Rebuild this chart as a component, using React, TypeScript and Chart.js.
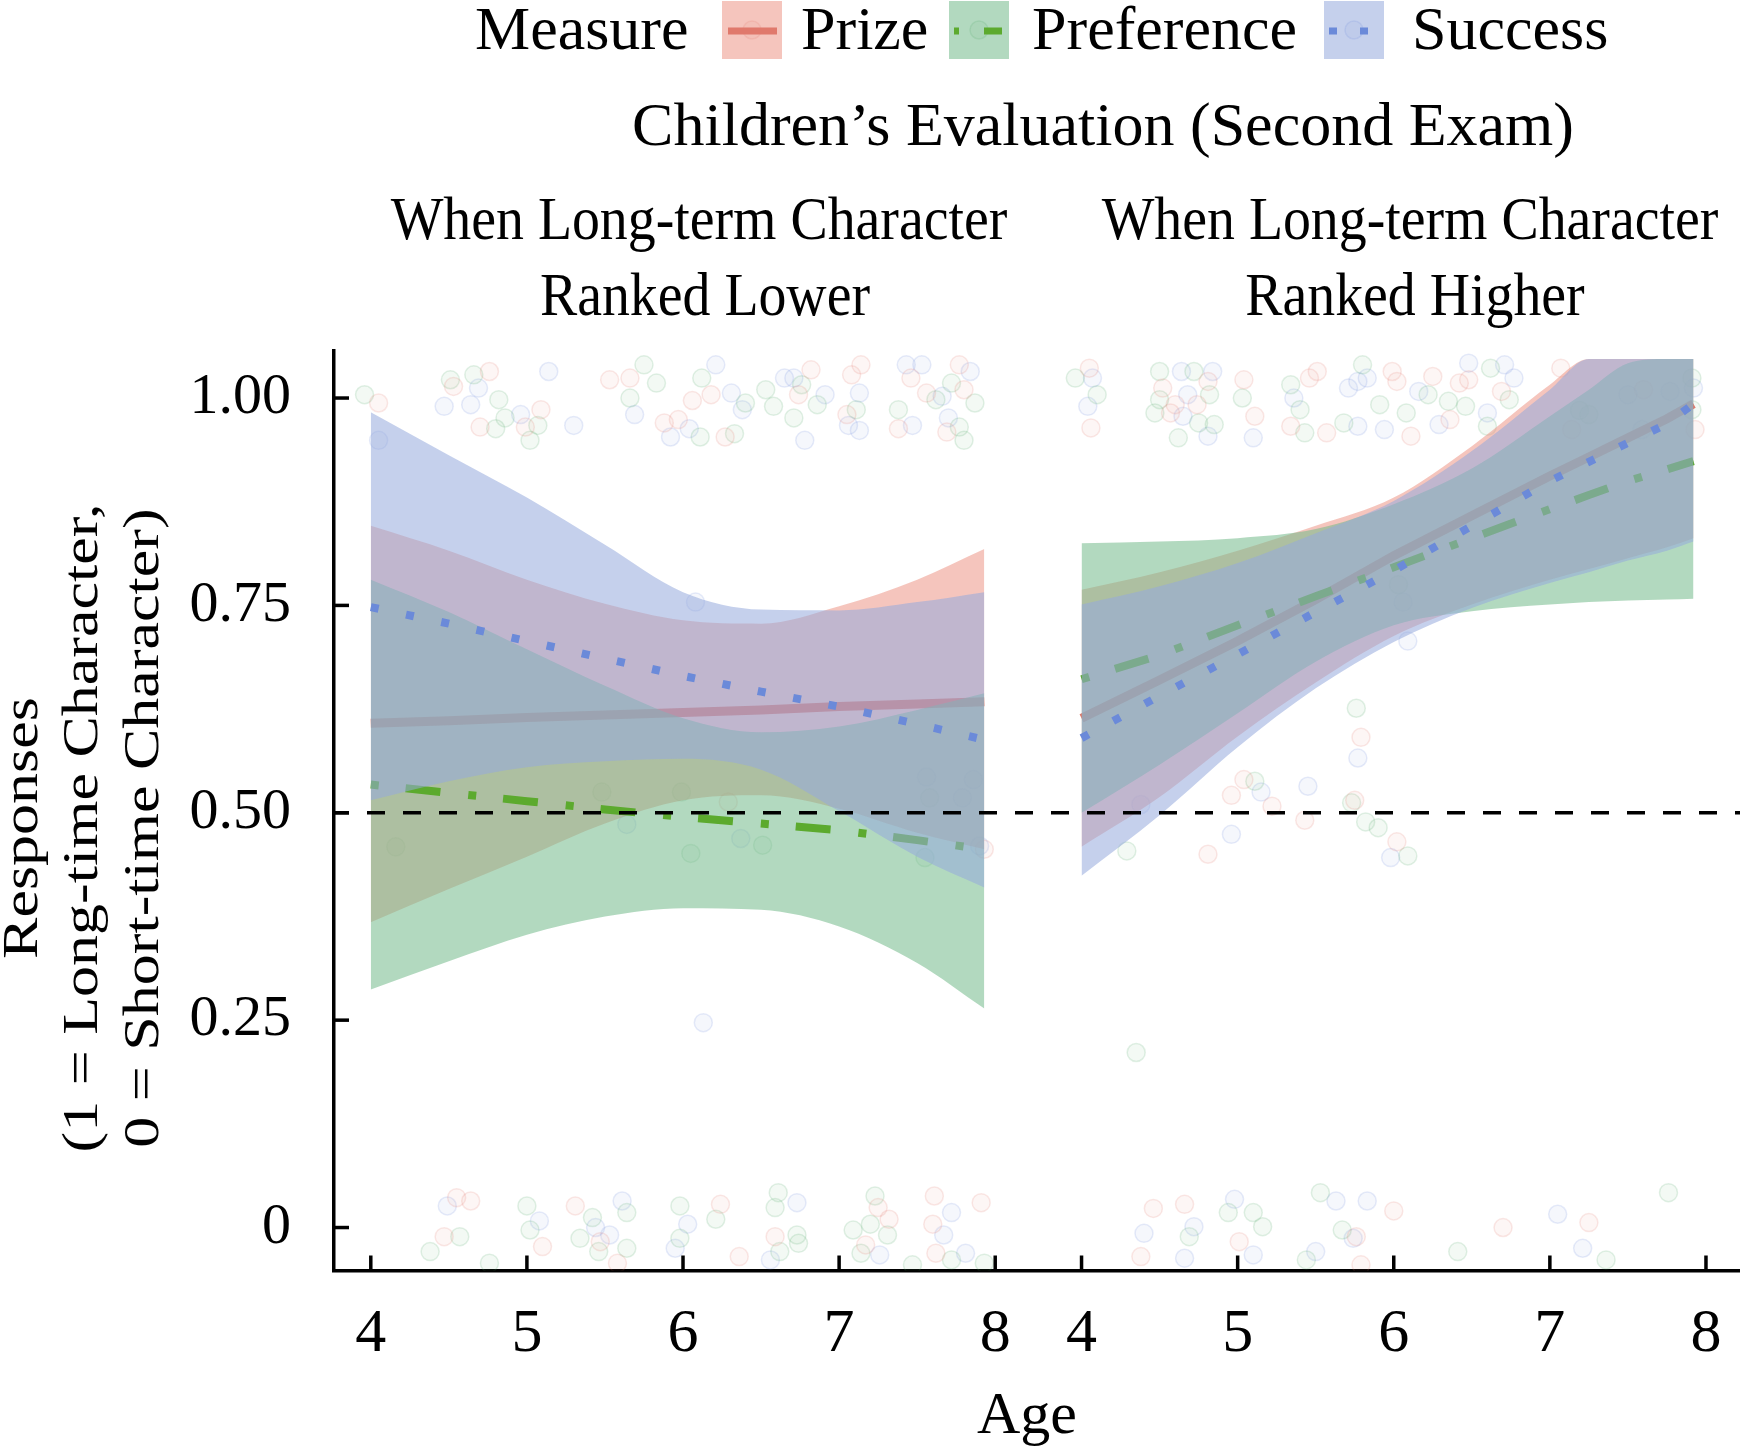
import React, { useEffect, useRef } from 'react';
import { Chart, registerables } from 'chart.js';

Chart.register(...registerables);

// ---------------- data ----------------
const MEASURES = ['Prize', 'Preference', 'Success'];
const LEFT_PANEL_TITLE = ['When Long-term Character', 'Ranked Lower'];
const RIGHT_PANEL_TITLE = ['When Long-term Character', 'Ranked Higher'];
const AGE_TICKS = [4, 5, 6, 7, 8];
const RESPONSE_TICKS = [0, 0.25, 0.5, 0.75, 1];
const RESPONSE_TICK_LABELS = ['0', '0.25', '0.50', '0.75', '1.00'];
const CHANCE_LEVEL = 0.5;

// left panel (Ranked Lower): fitted lines and confidence bands
const LEFT_AGES = [4, 4.5, 5, 5.5, 6, 6.5, 7, 7.5, 7.93];
const LEFT_PRIZE_FIT = [0.608, 0.611, 0.615, 0.618, 0.621, 0.624, 0.628, 0.631, 0.634];
const LEFT_PRIZE_UPPER = [0.846, 0.816, 0.781, 0.752, 0.732, 0.728, 0.749, 0.781, 0.818];
const LEFT_PRIZE_LOWER = [0.368, 0.408, 0.447, 0.487, 0.515, 0.521, 0.505, 0.476, 0.456];
const LEFT_PREF_FIT = [0.534, 0.524, 0.514, 0.504, 0.495, 0.487, 0.479, 0.467, 0.456];
const LEFT_PREF_UPPER = [0.781, 0.742, 0.697, 0.653, 0.614, 0.597, 0.604, 0.624, 0.644];
const LEFT_PREF_LOWER = [0.287, 0.321, 0.353, 0.375, 0.385, 0.383, 0.363, 0.319, 0.264];
const LEFT_SUCC_FIT = [0.748, 0.728, 0.707, 0.686, 0.665, 0.646, 0.628, 0.607, 0.588];
const LEFT_SUCC_UPPER = [0.983, 0.931, 0.88, 0.823, 0.766, 0.745, 0.744, 0.754, 0.766];
const LEFT_SUCC_LOWER = [0.515, 0.538, 0.555, 0.562, 0.565, 0.552, 0.502, 0.447, 0.41];

// right panel (Ranked Higher)
const RIGHT_AGES = [4, 4.5, 5, 5.5, 6, 6.5, 7, 7.25, 7.5, 7.75, 7.92];
const RIGHT_PRIZE_FIT = [0.614, 0.66, 0.707, 0.757, 0.81, 0.858, 0.906, 0.929, 0.952, 0.975, 0.993];
const RIGHT_PRIZE_UPPER = [0.769, 0.79, 0.816, 0.846, 0.88, 0.942, 1.016, 1.047, 1.047, 1.047, 1.047];
const RIGHT_PRIZE_LOWER = [0.459, 0.519, 0.592, 0.657, 0.713, 0.751, 0.781, 0.794, 0.807, 0.82, 0.831];
const RIGHT_PREF_FIT = [0.661, 0.69, 0.726, 0.761, 0.796, 0.831, 0.866, 0.883, 0.9, 0.914, 0.924];
const RIGHT_PREF_UPPER = [0.825, 0.827, 0.831, 0.842, 0.872, 0.915, 0.978, 1.01, 1.042, 1.047, 1.047];
const RIGHT_PREF_LOWER = [0.5, 0.558, 0.62, 0.682, 0.726, 0.743, 0.751, 0.754, 0.756, 0.757, 0.758];
const RIGHT_SUCC_FIT = [0.59, 0.641, 0.691, 0.742, 0.792, 0.846, 0.9, 0.923, 0.946, 0.969, 0.993];
const RIGHT_SUCC_UPPER = [0.751, 0.773, 0.801, 0.837, 0.876, 0.936, 1.01, 1.047, 1.047, 1.047, 1.047];
const RIGHT_SUCC_LOWER = [0.424, 0.497, 0.579, 0.65, 0.706, 0.747, 0.777, 0.79, 0.804, 0.816, 0.827];

// jittered raw responses [age, response]
const LEFT_PRIZE_POINTS = [
  [4.05, 0.994], [4.53, 1.014], [4.76, 1.032], [4.7, 0.965], [4.99, 0.965], [5.09, 0.986], [5.53, 1.022],
  [5.66, 1.024], [5.88, 0.97], [5.97, 0.974], [6.06, 0.997], [6.18, 1.004], [6.27, 0.953], [6.74, 1.004],
  [6.82, 1.034], [7.05, 0.98], [7.08, 1.028], [7.14, 1.04], [7.46, 1.024], [7.38, 0.963], [7.56, 1.006],
  [7.77, 1.04], [7.8, 1.01], [7.69, 0.959], [7.93, 0.456], [6.29, 0.513],
  [4.55, 0.036], [4.64, 0.032], [4.47, -0.011], [5.1, -0.023], [5.31, 0.026], [5.47, -0.017], [5.58, -0.043],
  [6.24, 0.028], [6.36, -0.035], [6.59, -0.011], [7.25, 0.024], [7.32, 0.01], [7.17, -0.021], [7.61, 0.038],
  [7.91, 0.03], [7.6, 0.004], [7.62, -0.031],
];
const LEFT_PREF_POINTS = [
  [3.96, 1.004], [4.51, 1.022], [4.66, 1.028], [4.82, 0.998], [4.8, 0.963], [4.86, 0.976], [5.07, 0.967],
  [5.02, 0.949], [5.75, 1.04], [5.83, 1.018], [5.66, 1.0], [6.11, 0.953], [6.12, 1.024], [6.33, 0.957],
  [6.4, 0.994], [6.53, 1.01], [6.58, 0.99], [6.76, 1.016], [6.71, 0.976], [6.86, 0.992], [7.11, 0.986],
  [7.38, 0.986], [7.62, 0.998], [7.72, 1.018], [7.87, 0.994], [7.77, 0.965], [7.8, 0.949],
  [4.16, 0.459], [5.48, 0.525], [5.99, 0.525], [6.05, 0.451], [6.51, 0.461], [7.55, 0.446], [7.58, 0.518],
  [4.57, -0.011], [4.38, -0.029], [4.76, -0.043], [5.0, 0.026], [5.02, -0.003], [5.42, 0.012], [5.34, -0.013],
  [5.46, -0.029], [5.64, 0.018], [5.64, -0.025], [5.98, 0.026], [5.98, -0.013], [6.21, 0.01], [6.61, 0.042],
  [6.59, 0.024], [6.73, -0.009], [6.74, -0.019], [6.62, -0.029], [7.23, 0.038], [7.2, 0.004], [7.09, -0.003],
  [7.31, -0.009], [7.14, -0.031], [7.72, -0.039], [7.93, -0.043], [7.47, -0.045],
];
const LEFT_SUCC_POINTS = [
  [4.05, 0.949], [4.47, 0.99], [4.69, 1.012], [4.64, 0.992], [4.96, 0.98], [5.14, 1.032], [5.3, 0.967],
  [5.69, 0.98], [5.92, 0.953], [6.04, 0.963], [6.21, 1.04], [6.31, 1.006], [6.38, 0.986], [6.65, 1.024],
  [6.71, 1.024], [6.78, 0.949], [6.91, 1.004], [7.06, 0.967], [7.13, 0.961], [7.13, 1.006], [7.43, 1.04],
  [7.47, 0.967], [7.53, 1.04], [7.66, 1.002], [7.84, 1.032], [7.7, 0.976],
  [5.64, 0.486], [6.37, 0.469], [7.56, 0.543], [7.79, 0.518], [7.86, 0.54], [7.9, 0.46], [6.08, 0.754], [6.13, 0.247],
  [4.49, 0.026], [5.08, 0.008], [5.44, 0.0], [5.61, 0.032], [5.53, -0.009], [6.03, 0.004], [5.95, -0.025],
  [6.73, 0.03], [6.56, -0.039], [7.26, -0.033], [7.72, 0.018], [7.67, -0.009], [7.81, -0.031],
];
const RIGHT_PRIZE_POINTS = [
  [4.05, 1.036], [4.06, 0.964], [4.81, 1.02], [4.52, 1.012], [4.6, 0.992], [4.74, 0.992], [4.57, 0.982],
  [5.04, 1.022], [5.11, 0.978], [5.46, 1.024], [5.51, 1.032], [5.34, 0.966], [5.57, 0.958], [5.99, 1.032],
  [6.02, 1.02], [6.11, 0.954], [6.25, 1.026], [6.36, 0.974], [6.42, 1.018], [6.48, 1.022], [6.69, 1.008],
  [7.07, 1.036], [7.93, 0.962], [7.6, 1.01], [7.14, 0.962],
  [5.79, 0.591], [5.04, 0.54], [4.96, 0.521], [5.22, 0.508], [5.43, 0.491], [5.75, 0.515], [6.02, 0.465], [4.81, 0.45],
  [4.46, 0.023], [4.66, 0.028], [4.38, -0.035], [5.01, -0.017], [6.0, 0.02], [5.76, -0.011], [5.79, -0.045],
  [6.7, 0.0], [7.25, 0.006],
];
const RIGHT_PREF_POINTS = [
  [3.96, 1.024], [4.1, 1.004], [4.5, 1.032], [4.72, 1.032], [4.82, 1.004], [4.5, 0.998], [4.47, 0.982],
  [4.75, 0.97], [4.85, 0.968], [4.62, 0.952], [5.03, 1.0], [5.34, 1.016], [5.4, 0.986], [5.43, 0.958],
  [5.8, 1.04], [5.68, 0.97], [5.91, 0.992], [6.08, 0.982], [6.22, 1.004], [6.35, 0.996], [6.46, 0.99],
  [6.62, 1.036], [6.74, 0.998], [6.6, 0.966], [7.19, 0.985], [7.91, 1.024], [7.25, 0.98], [7.91, 0.986],
  [5.76, 0.626], [6.03, 0.775], [5.11, 0.538], [5.73, 0.512], [5.82, 0.489], [5.9, 0.482], [6.09, 0.448],
  [4.29, 0.454], [4.35, 0.211],
  [4.69, -0.011], [4.94, 0.018], [5.1, 0.018], [5.16, 0.001], [5.44, -0.039], [5.53, 0.042], [5.67, -0.003],
  [6.41, -0.029], [7.36, -0.039], [7.76, 0.042],
];
const RIGHT_SUCC_POINTS = [
  [4.07, 1.024], [4.04, 0.99], [4.64, 1.032], [4.84, 1.032], [4.68, 1.004], [4.65, 0.978], [4.81, 0.954],
  [5.1, 0.952], [5.36, 1.0], [5.71, 1.012], [5.77, 1.02], [5.83, 1.024], [5.77, 0.966], [5.94, 0.962],
  [6.16, 1.008], [6.29, 0.968], [6.48, 1.042], [6.6, 0.982], [6.71, 1.04], [6.77, 1.024], [7.92, 1.012],
  [7.5, 1.004], [7.77, 1.008], [7.59, 0.962],
  [5.77, 0.566], [6.09, 0.707], [5.15, 0.525], [5.45, 0.532], [5.98, 0.446], [4.96, 0.474], [4.38, 0.51], [6.06, 0.754],
  [4.4, -0.007], [4.72, 0.001], [4.66, -0.037], [4.98, 0.034], [5.1, -0.033], [5.63, 0.032], [5.83, 0.032],
  [5.74, -0.013], [5.5, -0.029], [7.05, 0.016], [7.21, -0.025],
];

// ---------------- styling ----------------
const FONT = '"Liberation Serif", "Times New Roman", Times, serif';
const LINE_COLORS = ['rgb(224,121,108)', 'rgb(92,170,46)', 'rgb(107,138,217)'];
const FILL_COLORS = ['rgba(236,150,135,0.55)', 'rgba(115,186,138,0.55)', 'rgba(150,170,220,0.55)'];
const POINT_RGB = ['224,121,108', '80,165,100', '107,138,217'];
const LINE_DASH = [[], [8, 27, 35, 28], [8, 28]];
const LINE_WIDTH = [9, 8, 8];

// axis geometry (age units); right facet shifted along the same axis
const X_MIN = 3.7643;
const X_MAX = 12.771;
const RIGHT_OFFSET = 4.553;
const Y_MIN = -0.0518;
const Y_MAX = 1.0567;

type Pt = { x: number; y: number };
const toPts = (ages: number[], vals: number[], off: number): Pt[] =>
  ages.map((a, i) => ({ x: a + off, y: vals[i] }));

function buildDatasets() {
  const ds: any[] = [];
  const panels = [
    {
      off: 0,
      ages: LEFT_AGES,
      fits: [LEFT_PRIZE_FIT, LEFT_PREF_FIT, LEFT_SUCC_FIT],
      uppers: [LEFT_PRIZE_UPPER, LEFT_PREF_UPPER, LEFT_SUCC_UPPER],
      lowers: [LEFT_PRIZE_LOWER, LEFT_PREF_LOWER, LEFT_SUCC_LOWER],
      points: [LEFT_PRIZE_POINTS, LEFT_PREF_POINTS, LEFT_SUCC_POINTS],
    },
    {
      off: RIGHT_OFFSET,
      ages: RIGHT_AGES,
      fits: [RIGHT_PRIZE_FIT, RIGHT_PREF_FIT, RIGHT_SUCC_FIT],
      uppers: [RIGHT_PRIZE_UPPER, RIGHT_PREF_UPPER, RIGHT_SUCC_UPPER],
      lowers: [RIGHT_PRIZE_LOWER, RIGHT_PREF_LOWER, RIGHT_SUCC_LOWER],
      points: [RIGHT_PRIZE_POINTS, RIGHT_PREF_POINTS, RIGHT_SUCC_POINTS],
    },
  ];
  panels.forEach((p) => {
    MEASURES.forEach((m, k) => {
      ds.push({
        label: `${m} points`,
        data: p.points[k].map(([a, r]) => ({ x: a + p.off, y: r })),
        showLine: false,
        borderColor: `rgba(${POINT_RGB[k]},0.17)`,
        backgroundColor: `rgba(${POINT_RGB[k]},0.07)`,
        pointRadius: 9,
        pointBorderWidth: 1.5,
        borderWidth: 1.5,
        order: 100,
      });
    });
    MEASURES.forEach((m, k) => {
      const base = 60 - k * 10;
      ds.push({
        label: `${m} upper`,
        data: toPts(p.ages, p.uppers[k], p.off),
        fill: '+1',
        backgroundColor: FILL_COLORS[k],
        borderColor: 'rgba(0,0,0,0)',
        borderWidth: 0,
        pointRadius: 0,
        cubicInterpolationMode: 'monotone',
        order: base,
      });
      ds.push({
        label: `${m} lower`,
        data: toPts(p.ages, p.lowers[k], p.off),
        fill: false,
        borderColor: 'rgba(0,0,0,0)',
        backgroundColor: 'rgba(0,0,0,0)',
        borderWidth: 0,
        pointRadius: 0,
        cubicInterpolationMode: 'monotone',
        order: base,
      });
      ds.push({
        label: `${m} fit`,
        data: toPts(p.ages, p.fits[k], p.off),
        fill: false,
        borderColor: LINE_COLORS[k],
        borderWidth: LINE_WIDTH[k],
        borderDash: LINE_DASH[k],
        borderCapStyle: 'butt',
        pointRadius: 0,
        tension: 0,
        order: base - 5,
      });
    });
  });
  ds.push({
    label: 'chance',
    data: [
      { x: X_MIN, y: CHANCE_LEVEL },
      { x: X_MAX, y: CHANCE_LEVEL },
    ],
    borderColor: '#000',
    borderWidth: 3.5,
    borderDash: [18, 18],
    borderDashOffset: 3,
    pointRadius: 0,
    fill: false,
    order: 1,
  });
  return ds;
}

const inwardTicks = {
  id: 'inwardTicks',
  afterDraw(chart: any) {
    const { ctx, chartArea, scales } = chart;
    ctx.save();
    ctx.strokeStyle = '#000';
    ctx.lineWidth = 3.5;
    ctx.lineCap = 'butt';
    scales.x.ticks.forEach((t: any) => {
      const px = scales.x.getPixelForValue(t.value);
      ctx.beginPath();
      ctx.moveTo(px, chartArea.bottom);
      ctx.lineTo(px, chartArea.bottom - 15);
      ctx.stroke();
    });
    scales.y.ticks.forEach((t: any) => {
      const py = scales.y.getPixelForValue(t.value);
      ctx.beginPath();
      ctx.moveTo(chartArea.left, py);
      ctx.lineTo(chartArea.left + 15, py);
      ctx.stroke();
    });
    ctx.restore();
  },
};

function LegendKey({ left, k }: { left: number; k: number }) {
  return (
    <svg style={{ position: 'absolute', left, top: 1 }} width={60} height={58}>
      <rect x={0} y={0} width={60} height={58} fill={FILL_COLORS[k]} />
      <circle cx={30} cy={29} r={9} fill={`rgba(${POINT_RGB[k]},0.07)`} stroke={`rgba(${POINT_RGB[k]},0.17)`} strokeWidth={1.5} />
      {k === 0 && <line x1={6} y1={30} x2={55} y2={30} stroke={LINE_COLORS[0]} strokeWidth={7} />}
      {k === 1 && (
        <line x1={5} y1={30} x2={53} y2={30} stroke={LINE_COLORS[1]} strokeWidth={7} strokeDasharray="5 25 18 60" />
      )}
      {k === 2 && <line x1={5} y1={30} x2={44} y2={30} stroke={LINE_COLORS[2]} strokeWidth={7} strokeDasharray="8 23" />}
    </svg>
  );
}

const textBase: React.CSSProperties = {
  position: 'absolute',
  fontFamily: FONT,
  fontSize: 62,
  lineHeight: '62px',
  whiteSpace: 'nowrap',
  color: '#000',
};

export default function App() {
  const ref = useRef<HTMLCanvasElement>(null);
  useEffect(() => {
    document.body.style.margin = '0';
    document.body.style.overflow = 'hidden';
    const chart = new Chart(ref.current as HTMLCanvasElement, {
      type: 'line',
      data: { datasets: buildDatasets() },
      options: {
        responsive: false,
        animation: false,
        events: [],
        layout: { autoPadding: false, padding: { top: 351, left: 0, right: 0, bottom: 0 } },
        plugins: {
          legend: { display: false },
          title: { display: false },
          tooltip: { enabled: false },
          colors: { enabled: false },
        } as any,
        scales: {
          x: {
            type: 'linear',
            min: X_MIN,
            max: X_MAX,
            grid: { display: false },
            border: { display: true, color: '#000', width: 3.5 },
            afterBuildTicks: (scale: any) => {
              scale.ticks = [
                ...AGE_TICKS.map((a) => ({ value: a })),
                ...AGE_TICKS.map((a) => ({ value: a + RIGHT_OFFSET })),
              ];
            },
            afterFit: (scale: any) => {
              scale.height = 176.5;
              scale.paddingLeft = 0;
              scale.paddingRight = 0;
            },
            ticks: {
              autoSkip: false,
              maxRotation: 0,
              minRotation: 0,
              padding: 19,
              color: '#000',
              font: { family: FONT, size: 62 },
              callback: (v: any) => String(Math.round(v > 8.3 ? v - RIGHT_OFFSET : v)),
            },
          },
          y: {
            type: 'linear',
            min: Y_MIN,
            max: Y_MAX,
            grid: { display: false },
            border: { display: true, color: '#000', width: 3.5 },
            afterBuildTicks: (scale: any) => {
              scale.ticks = RESPONSE_TICKS.map((v) => ({ value: v }));
            },
            afterFit: (scale: any) => {
              scale.width = 334;
              scale.paddingTop = 0;
              scale.paddingBottom = 0;
            },
            ticks: {
              autoSkip: false,
              padding: 35,
              color: '#000',
              font: { family: FONT, size: 58 },
              callback: (_v: any, i: number) => RESPONSE_TICK_LABELS[i],
            },
          },
        },
      } as any,
      plugins: [inwardTicks],
    });
    return () => chart.destroy();
  }, []);

  const F = 62;
  const bl = 0.8375 * F; // baseline offset inside a 62px line box
  return (
    <div
      style={{
        position: 'absolute',
        left: 0,
        top: 0,
        width: 1740,
        height: 1447,
        background: '#fff',
        overflow: 'hidden',
      }}
    >
      <canvas ref={ref} width={1740} height={1447} style={{ position: 'absolute', left: 0, top: 0, width: 1740, height: 1447 }} />

      {/* legend */}
      <div style={{ ...textBase, left: 475, top: 49 - bl }}>Measure</div>
      <LegendKey left={722} k={0} />
      <div style={{ ...textBase, left: 801, top: 49 - bl }}>{MEASURES[0]}</div>
      <LegendKey left={949} k={1} />
      <div style={{ ...textBase, left: 1032, top: 49 - bl }}>{MEASURES[1]}</div>
      <LegendKey left={1324} k={2} />
      <div style={{ ...textBase, left: 1412, top: 49 - bl }}>{MEASURES[2]}</div>

      {/* title */}
      <div style={{ ...textBase, left: 1103, top: 145 - bl, transform: 'translateX(-50%)' }}>
        Children’s Evaluation (Second Exam)
      </div>

      {/* facet strips */}
      <div style={{ ...textBase, left: 699, top: 239 - bl, transform: 'translateX(-50%) scaleX(0.9)' }}>{LEFT_PANEL_TITLE[0]}</div>
      <div style={{ ...textBase, left: 705, top: 315 - bl, transform: 'translateX(-50%) scaleX(0.9)' }}>{LEFT_PANEL_TITLE[1]}</div>
      <div style={{ ...textBase, left: 1410, top: 239 - bl, transform: 'translateX(-50%) scaleX(0.9)' }}>{RIGHT_PANEL_TITLE[0]}</div>
      <div style={{ ...textBase, left: 1415, top: 315 - bl, transform: 'translateX(-50%) scaleX(0.9)' }}>{RIGHT_PANEL_TITLE[1]}</div>

      {/* y title */}
      <div
        style={{
          position: 'absolute',
          left: 80 - 400,
          top: 828 - 111,
          width: 800,
          height: 222,
          fontFamily: FONT,
          fontSize: 62,
          lineHeight: '74px',
          textAlign: 'center',
          whiteSpace: 'nowrap',
          color: '#000',
          transform: 'rotate(-90deg) scale(1, 0.82)',
          transformOrigin: '50% 50%',
        }}
      >
        <div>Responses</div>
        <div>(1 = Long-time Character,</div>
        <div>0 = Short-time Character)</div>
      </div>

      {/* x title */}
      <div style={{ ...textBase, fontSize: 60, lineHeight: '60px', left: 1027, top: 1433 - 0.8375 * 60, transform: 'translateX(-50%)' }}>
        Age
      </div>
    </div>
  );
}
